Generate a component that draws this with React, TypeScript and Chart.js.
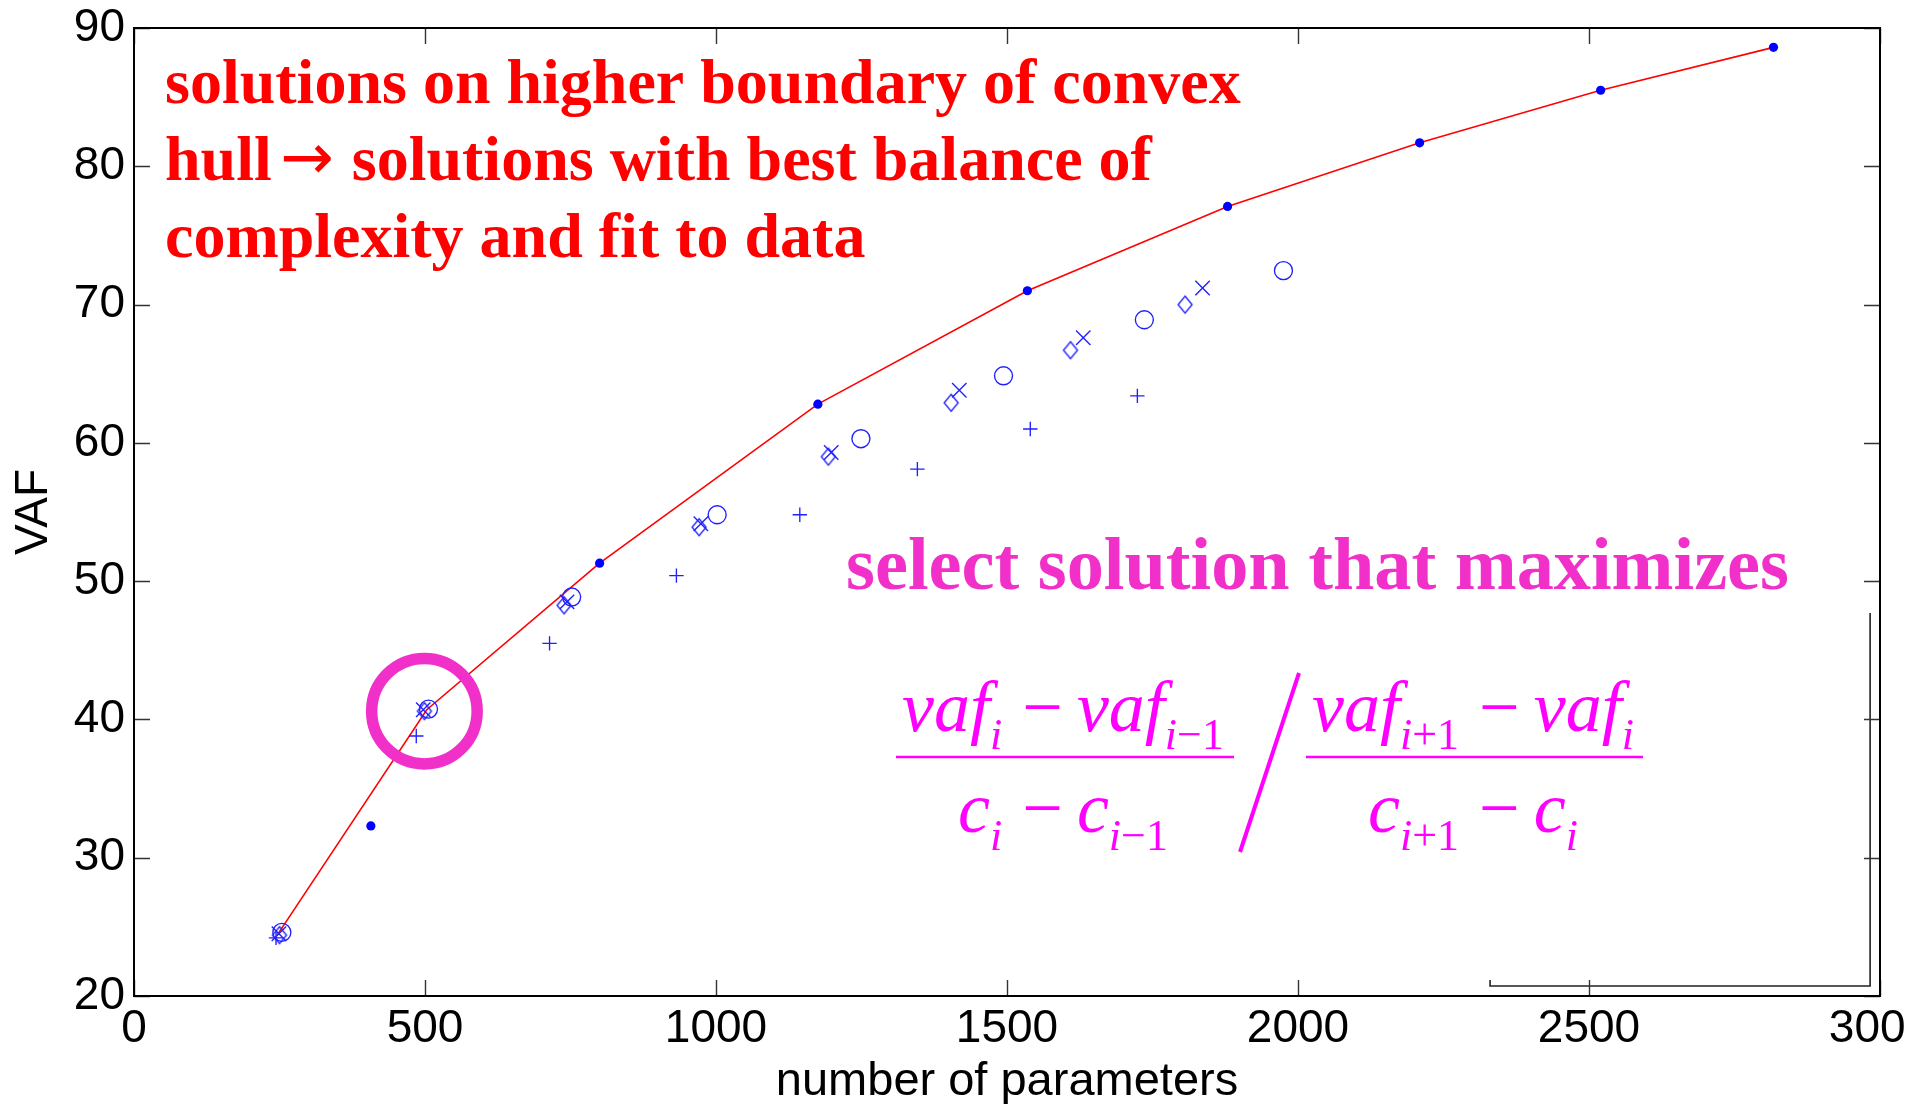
import React, { useEffect, useRef } from 'react';
import { Chart, registerables } from 'chart.js';

Chart.register(...registerables);

// ---------------- data ----------------
const X_TICKS = [0, 500, 1000, 1500, 2000, 2500, 3000];
const Y_TICKS = [20, 30, 40, 50, 60, 70, 80, 90];

// upper convex hull (red line)
const hullX = [246, 503, 800, 1175, 1535, 1879, 2209, 2520, 2817];
const hullY = [24.4, 40.7, 51.3, 62.8, 71.0, 77.1, 81.7, 85.5, 88.6];

// filled dots
const dotX = [407, 800, 1175, 1535, 1879, 2209, 2520, 2817];
const dotY = [32.3, 51.3, 62.8, 71.0, 77.1, 81.7, 85.5, 88.6];

// '+' markers
const plusX = [244, 485, 714, 932, 1144, 1346, 1540, 1724];
const plusY = [24.2, 38.8, 45.5, 50.4, 54.8, 58.1, 61.0, 63.4];

// diamond markers
const diamondX = [250, 499, 739, 971, 1193, 1404, 1609, 1806];
const diamondY = [24.4, 40.6, 48.25, 53.9, 59.0, 62.9, 66.7, 70.0];

// 'x' markers
const crossX = [249, 497, 744, 974, 1198, 1418, 1631, 1836];
const crossY = [24.5, 40.7, 48.5, 54.15, 59.3, 63.8, 67.6, 71.2];

// circle markers
const circleX = [254, 506, 752, 1002, 1249, 1494, 1736, 1975];
const circleY = [24.6, 40.75, 48.85, 54.8, 60.3, 64.85, 68.9, 72.45];

// highlighted (selected) solution
const selectedX = [499];
const selectedY = [40.6];

// odd bracket left in the lower right corner (data coordinates)
const bracketX = [2330, 2983];
const bracketY = [20.72, 47.7];

const TITLE_LINES = [
  ['solutions on higher boundary of convex'],
  ['hull', '\u2192', ' solutions with best balance of'],
  ['complexity and fit to data'],
];
const SELECT_TEXT = 'select solution that maximizes';
const X_LABEL = 'number of parameters';
const Y_LABEL = 'VAF';

// ---------------- styles ----------------
const BLUE = '#0000FF';
const MARK = '#1f1fff';
const PINK = '#F030C8';
const MAGENTA = '#FF00FF';
const SANS = '"Liberation Sans", Arial, sans-serif';
const SERIF = '"Liberation Serif", "Times New Roman", serif';

const pts = (xs: number[], ys: number[]) => xs.map((x, i) => ({ x, y: ys[i] }));

function makeDiamond(): HTMLCanvasElement {
  const c = document.createElement('canvas');
  c.width = 18;
  c.height = 22;
  const g = c.getContext('2d')!;
  g.strokeStyle = MARK;
  g.lineWidth = 1.35;
  g.beginPath();
  g.moveTo(9, 2.5);
  g.lineTo(16, 11);
  g.lineTo(9, 19.5);
  g.lineTo(2, 11);
  g.closePath();
  g.stroke();
  return c;
}

type Tok = { t: string; f: string; dy?: number; gap?: number };

function drawRow(ctx: CanvasRenderingContext2D, toks: Tok[], cx: number, base: number) {
  let total = 0;
  for (const k of toks) {
    ctx.font = k.f;
    total += (k.gap || 0) + ctx.measureText(k.t).width;
  }
  let x = cx - total / 2;
  for (const k of toks) {
    ctx.font = k.f;
    x += k.gap || 0;
    ctx.fillText(k.t, x, base + (k.dy || 0));
    x += ctx.measureText(k.t).width;
  }
}

const annotPlugin = {
  id: 'annot',
  afterDraw(chart: any) {
    const { ctx, chartArea: a, scales } = chart;
    const xs = scales.x;
    const ys = scales.y;
    ctx.save();

    // odd bracket
    const bx0 = xs.getPixelForValue(bracketX[0]);
    const bx1 = xs.getPixelForValue(bracketX[1]);
    const by0 = ys.getPixelForValue(bracketY[0]);
    const by1 = ys.getPixelForValue(bracketY[1]);
    ctx.strokeStyle = '#222';
    ctx.lineWidth = 1.6;
    ctx.beginPath();
    ctx.moveTo(bx0, by0 - 6);
    ctx.lineTo(bx0, by0);
    ctx.lineTo(bx1, by0);
    ctx.lineTo(bx1, by1);
    ctx.stroke();

    // ticks (inward, all four sides)
    ctx.strokeStyle = '#333';
    ctx.lineWidth = 1.4;
    const TL = 16;
    ctx.beginPath();
    for (const t of xs.ticks) {
      const p = Math.round(xs.getPixelForValue(t.value)) + 0.5;
      ctx.moveTo(p, a.bottom);
      ctx.lineTo(p, a.bottom - TL);
      ctx.moveTo(p, a.top);
      ctx.lineTo(p, a.top + TL);
    }
    for (const t of ys.ticks) {
      const p = Math.round(ys.getPixelForValue(t.value)) + 0.5;
      ctx.moveTo(a.left, p);
      ctx.lineTo(a.left + TL, p);
      ctx.moveTo(a.right, p);
      ctx.lineTo(a.right - TL, p);
    }
    ctx.stroke();

    // frame
    ctx.strokeStyle = '#000';
    ctx.lineWidth = 2;
    ctx.strokeRect(a.left, a.top, a.right - a.left, a.bottom - a.top);

    // red annotation
    ctx.fillStyle = '#FF0000';
    ctx.textBaseline = 'alphabetic';
    ctx.textAlign = 'left';
    const RED_FONT = `bold 64px ${SERIF}`;
    const ARROW_FONT = `64px "DejaVu Sans", ${SERIF}`;
    TITLE_LINES.forEach((parts, i) => {
      let x = 165;
      const base = 103 + i * 77;
      parts.forEach((p) => {
        if (p === '\u2192') {
          ctx.font = RED_FONT;
          const slot = ctx.measureText(p).width;
          ctx.font = ARROW_FONT;
          const w = ctx.measureText(p).width;
          ctx.fillText(p, x + (slot - w) / 2 + 3, base - 1);
          x += slot;
        } else {
          ctx.font = RED_FONT;
          ctx.fillText(p, x, base);
          x += ctx.measureText(p).width;
        }
      });
    });

    // pink annotation
    ctx.fillStyle = PINK;
    ctx.font = `bold 74.3px ${SERIF}`;
    ctx.fillText(SELECT_TEXT, 846, 589);

    // formula
    ctx.fillStyle = MAGENTA;
    ctx.strokeStyle = MAGENTA;
    const M = `italic 72px ${SERIF}`;
    const U = `72px ${SERIF}`;
    const S = `italic 44px ${SERIF}`;
    const SU = `44px ${SERIF}`;
    const SUBDY = 18;
    const numL: Tok[] = [
      { t: 'vaf', f: M }, { t: 'i', f: S, dy: SUBDY },
      { t: '\u2212', f: U, gap: 20 },
      { t: 'vaf', f: M, gap: 14 }, { t: 'i', f: S, dy: SUBDY }, { t: '\u22121', f: SU, dy: SUBDY },
    ];
    const denL: Tok[] = [
      { t: 'c', f: M }, { t: 'i', f: S, dy: SUBDY },
      { t: '\u2212', f: U, gap: 20 },
      { t: 'c', f: M, gap: 14 }, { t: 'i', f: S, dy: SUBDY }, { t: '\u22121', f: SU, dy: SUBDY },
    ];
    const numR: Tok[] = [
      { t: 'vaf', f: M }, { t: 'i', f: S, dy: SUBDY }, { t: '+1', f: SU, dy: SUBDY },
      { t: '\u2212', f: U, gap: 20 },
      { t: 'vaf', f: M, gap: 14 }, { t: 'i', f: S, dy: SUBDY },
    ];
    const denR: Tok[] = [
      { t: 'c', f: M }, { t: 'i', f: S, dy: SUBDY }, { t: '+1', f: SU, dy: SUBDY },
      { t: '\u2212', f: U, gap: 20 },
      { t: 'c', f: M, gap: 14 }, { t: 'i', f: S, dy: SUBDY },
    ];
    drawRow(ctx, numL, 1063, 731);
    drawRow(ctx, denL, 1063, 832);
    drawRow(ctx, numR, 1473, 731);
    drawRow(ctx, denR, 1473, 832);
    ctx.lineWidth = 2.5;
    ctx.beginPath();
    ctx.moveTo(896, 757);
    ctx.lineTo(1234, 757);
    ctx.moveTo(1306, 757);
    ctx.lineTo(1643, 757);
    ctx.stroke();
    ctx.lineWidth = 4;
    ctx.beginPath();
    ctx.moveTo(1240, 852);
    ctx.lineTo(1299, 673);
    ctx.stroke();

    ctx.restore();
  },
};

export default function App() {
  const ref = useRef<HTMLCanvasElement | null>(null);

  useEffect(() => {
    document.body.style.margin = '0';
    document.body.style.overflow = 'hidden';
    const canvas = ref.current!;
    const diamond = makeDiamond();
    const tickFont = { family: SANS, size: 46, lineHeight: 1.2 };

    const chart = new Chart(canvas, {
      type: 'scatter',
      data: {
        datasets: [
          {
            label: 'selected',
            data: pts(selectedX, selectedY),
            pointStyle: 'circle',
            pointRadius: 52.75,
            borderColor: PINK,
            backgroundColor: 'rgba(0,0,0,0)',
            borderWidth: 11.5,
            order: 0,
          },
          {
            label: 'dots',
            data: pts(dotX, dotY),
            pointStyle: 'circle',
            pointRadius: 4.6,
            borderWidth: 0,
            backgroundColor: BLUE,
            borderColor: BLUE,
            order: 1,
          },
          {
            label: 'plus',
            data: pts(plusX, plusY),
            pointStyle: 'cross',
            pointRadius: 7.2,
            borderWidth: 1.35,
            borderColor: MARK,
            backgroundColor: MARK,
            order: 2,
          },
          {
            label: 'diamond',
            data: pts(diamondX, diamondY),
            pointStyle: diamond as any,
            pointRadius: 8,
            borderColor: MARK,
            backgroundColor: MARK,
            order: 3,
          },
          {
            label: 'x',
            data: pts(crossX, crossY),
            pointStyle: 'crossRot',
            pointRadius: 10.2,
            borderWidth: 1.35,
            borderColor: MARK,
            backgroundColor: MARK,
            order: 4,
          },
          {
            label: 'circle',
            data: pts(circleX, circleY),
            pointStyle: 'circle',
            pointRadius: 9,
            borderWidth: 1.35,
            borderColor: MARK,
            backgroundColor: 'rgba(0,0,0,0)',
            order: 5,
          },
          {
            label: 'hull',
            data: pts(hullX, hullY),
            showLine: true,
            pointRadius: 0,
            borderColor: '#FF0000',
            borderWidth: 1.6,
            tension: 0,
            order: 6,
          } as any,
        ],
      },
      options: {
        responsive: false,
        animation: false,
        events: [],
        layout: { autoPadding: false, padding: { top: 28, right: 26, left: 0, bottom: 0 } },
        plugins: {
          legend: { display: false },
          tooltip: { enabled: false },
        },
        scales: {
          x: {
            type: 'linear',
            min: X_TICKS[0],
            max: X_TICKS[X_TICKS.length - 1],
            afterBuildTicks: (s: any) => {
              s.ticks = X_TICKS.map((v) => ({ value: v }));
            },
            ticks: {
              color: '#000',
              font: tickFont,
              padding: 6,
              maxRotation: 0,
              autoSkip: false,
              callback: (v: any) => String(v),
            },
            grid: { display: false, drawTicks: false },
            border: { display: false },
            title: {
              display: true,
              text: X_LABEL,
              color: '#000',
              font: { family: SANS, size: 47, lineHeight: 0.95 },
              padding: { top: 0, bottom: 0 },
            },
            afterFit: (s: any) => {
              s.height = 108;
              s.paddingLeft = 0;
              s.paddingRight = 0;
            },
          },
          y: {
            type: 'linear',
            min: Y_TICKS[0],
            max: Y_TICKS[Y_TICKS.length - 1],
            afterBuildTicks: (s: any) => {
              s.ticks = Y_TICKS.map((v) => ({ value: v }));
            },
            ticks: {
              color: '#000',
              font: tickFont,
              padding: 9,
              autoSkip: false,
              callback: (v: any) => String(v),
            },
            grid: { display: false, drawTicks: false },
            border: { display: false },
            title: {
              display: true,
              text: Y_LABEL,
              color: '#000',
              font: { family: SANS, size: 46, lineHeight: 1.2 },
              padding: { top: 7, bottom: 0 },
            },
            afterFit: (s: any) => {
              s.width = 134;
              s.paddingTop = 0;
              s.paddingBottom = 0;
            },
          },
        },
      },
      plugins: [annotPlugin],
    });

    return () => chart.destroy();
  }, []);

  return (
    <div style={{ position: 'absolute', left: 0, top: 0, width: 1906, height: 1104 }}>
      <canvas ref={ref} width={1906} height={1104} style={{ display: 'block' }} />
    </div>
  );
}
